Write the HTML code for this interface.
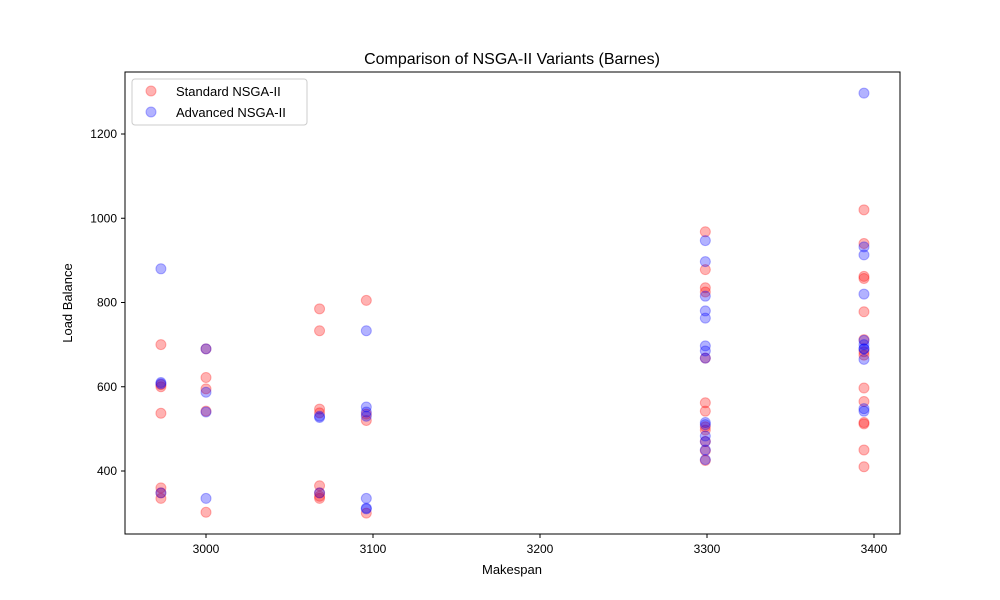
<!DOCTYPE html>
<html><head><meta charset="utf-8"><style>body{margin:0;background:#fff}svg{display:block;font-family:"Liberation Sans",sans-serif}</style></head>
<body>
<svg id="chart" width="1000" height="600">
<rect x="0" y="0" width="1000" height="600" fill="#fff"/>
<text x="512" y="64" text-anchor="middle" font-size="16">Comparison of NSGA-II Variants (Barnes)</text>
<g id="marks"></g>
<rect x="125" y="72" width="775" height="462" fill="none" stroke="#000" stroke-width="1"/>
<g id="axes"></g>
<text x="512" y="574" text-anchor="middle" font-size="13">Makespan</text>
<text x="72" y="303" text-anchor="middle" font-size="13" transform="rotate(-90 72 303)">Load Balance</text>
<g>
<rect x="132" y="79" width="175" height="46" rx="3" fill="#fff" stroke="#ccc"/>
<g><circle cx="151" cy="91" r="5" fill="rgba(255,0,0,0.3)" stroke="rgba(255,0,0,0.3)"/><text x="176" y="96" font-size="13">Standard NSGA-II</text></g>
<g><circle cx="151" cy="112" r="5" fill="rgba(0,0,255,0.3)" stroke="rgba(0,0,255,0.3)"/><text x="176" y="117" font-size="13">Advanced NSGA-II</text></g>
</g>
</svg>
<script>
const xTicks=[3000,3100,3200,3300,3400];
const yTicks=[400,600,800,1000,1200];
const stdX=[2973,2973,2973,2973,2973,2973,2973,
3000,3000,3000,3000,3000,
3068,3068,3068,3068,3068,3068,3068,3068,
3096,3096,3096,3096,
3299,3299,3299,3299,3299,3299,3299,3299,3299,3299,3299,3299,
3394,3394,3394,3394,3394,3394,3394,3394,3394,3394,3394,3394,3394,3394];
const stdY=[700,600,605,537,360,335,348,
690,622,595,542,302,
785,733,547,538,365,340,335,348,
805,520,535,300,
968,878,835,825,562,542,505,497,668,448,425,470,
1020,940,862,857,778,712,683,675,597,565,512,515,450,410];
const advX=[2973,2973,2973,2973,
3000,3000,3000,3000,
3068,3068,3068,
3096,3096,3096,3096,3096,3096,3096,
3299,3299,3299,3299,3299,3299,3299,3299,3299,3299,3299,3299,3299,3299,
3394,3394,3394,3394,3394,3394,3394,3394,3394,3394,3394];
const advY=[880,610,607,348,
690,587,540,335,
527,530,348,
733,552,540,530,335,310,312,
947,897,815,780,763,697,685,668,515,510,483,470,450,427,
1297,932,913,820,710,700,690,665,548,542,690];
const NS='http://www.w3.org/2000/svg';
const sx=v=>206+(v-3000)*1.67;
const sy=v=>134+(1200-v)*0.42125;
const marks=document.getElementById('marks'),axes=document.getElementById('axes');
function mk(t,a){const e=document.createElementNS(NS,t);for(const k in a)e.setAttribute(k,a[k]);return e;}
xTicks.forEach(t=>{const x=sx(t);
const l=mk('line',{x1:x,x2:x,y1:534,y2:538,stroke:'#000'});


axes.appendChild(l);
const tx=mk('text',{x:x,y:553,'text-anchor':'middle','font-size':12});tx.textContent=t;


axes.appendChild(tx);});
yTicks.forEach(t=>{const y=sy(t);
const l=mk('line',{x1:121,x2:125,y1:y,y2:y,stroke:'#000'});


axes.appendChild(l);
const tx=mk('text',{x:117,y:y+4,'text-anchor':'end','font-size':12});tx.textContent=t;


axes.appendChild(tx);});
function series(xs,ys,col,name){xs.forEach((v,i)=>{const c=mk('circle',{cx:sx(v),cy:sy(ys[i]),r:5,fill:col,stroke:col,'stroke-width':1});


marks.appendChild(c);});}
series(stdX,stdY,'rgba(255,0,0,0.3)','standard-point');
series(advX,advY,'rgba(0,0,255,0.3)','advanced-point');
</script>
</body></html>
